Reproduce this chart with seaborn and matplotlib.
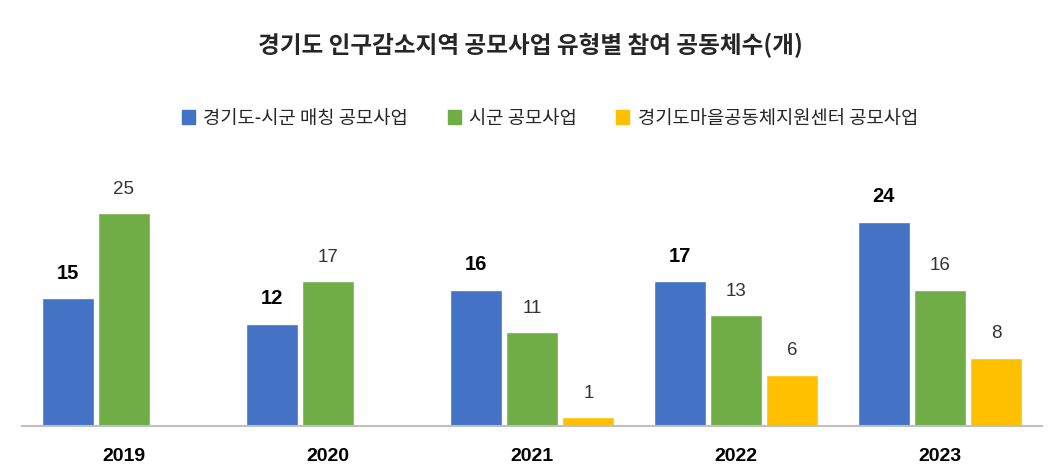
import numpy as np
import pandas as pd
import matplotlib
matplotlib.use('Agg')
import matplotlib.pyplot as plt
import seaborn as sns

years = ['2019', '2020', '2021', '2022', '2023']
series_names = ['경기도-시군 매칭 공모사업', '시군 공모사업', '경기도마을공동체지원센터 공모사업']
matching = [15, 12, 16, 17, 24]
sigun = [25, 17, 11, 13, 16]
center = [np.nan, np.nan, 1, 6, 8]
colors = ['#4472C4', '#70AD47', '#FFC000']

rows = []
for name, vals in zip(series_names, [matching, sigun, center]):
    for y, v in zip(years, vals):
        rows.append({'year': y, 'type': name, 'count': v})
df = pd.DataFrame(rows)

sns.set_style('white')
plt.rcParams['font.family'] = ['Noto Sans CJK KR', 'DejaVu Sans']

fig = plt.figure(figsize=(10.61, 4.74), dpi=100)
ax = fig.add_axes([22 / 1061, 1 - 425.7 / 474, 1020 / 1061, 255 / 474])

sns.barplot(data=df, x='year', y='count', hue='type', hue_order=series_names,
            order=years, palette=colors, width=0.83, gap=0.08,
            errorbar=None, saturation=1, legend=False, ax=ax)

ax.set_xlim(-0.5, 4.5)
ax.set_ylim(0, 30)
ax.set_xlabel('')
ax.set_ylabel('')
ax.set_yticks([])
for side in ['left', 'right', 'top']:
    ax.spines[side].set_visible(False)
ax.spines['bottom'].set_color('#bfbfbf')
ax.spines['bottom'].set_linewidth(1.5)
ax.tick_params(axis='x', length=0, pad=16)
for lbl in ax.get_xticklabels():
    lbl.set_family('Liberation Sans')
    lbl.set_fontsize(14)
    lbl.set_fontweight('bold')
    lbl.set_color('black')

# value labels
for i, cont in enumerate(ax.containers):
    if i == 0:
        ax.bar_label(cont, fmt='%g', padding=11, fontsize=14.5,
                     fontweight='bold', color='black', family='Liberation Sans')
    else:
        ax.bar_label(cont, fmt='%g', padding=11, fontsize=13.5,
                     color='#333333', family='Liberation Sans')

fig.text(0.5, 1 - 45 / 474, '경기도 인구감소지역 공모사업 유형별 참여 공동체수(개)',
         ha='center', va='center', fontsize=17, fontweight='bold')

handles = [plt.Rectangle((0, 0), 1, 1, color=c) for c in colors]
fig.legend(handles, series_names, loc='center', bbox_to_anchor=(550 / 1061, 1 - 118 / 474),
           ncol=3, frameon=False, fontsize=13.5, handlelength=0.7, handleheight=0.7,
           handletextpad=0.45, columnspacing=2.1)

fig.savefig('out.png', dpi=100)
